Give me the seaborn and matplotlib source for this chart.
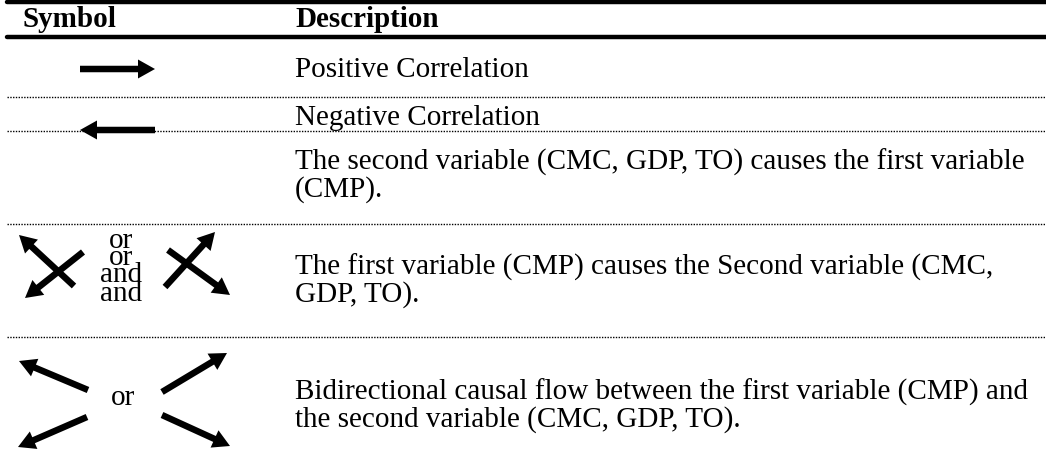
import pandas as pd
import matplotlib.pyplot as plt
import seaborn as sns

# table content
headers = ["Symbol", "Description"]
descriptions = [
    ["Positive Correlation"],
    ["Negative Correlation"],
    ["The second variable (CMC, GDP, TO) causes the first variable", "(CMP)."],
    ["The first variable (CMP) causes the Second variable (CMC,", "GDP, TO)."],
    ["Bidirectional causal flow between the first variable (CMP) and",
     "the second variable (CMC, GDP, TO)."],
]
desc_baseline = [77, 125, 170, 275, 400]
line_step = 27

# separators (pixel rows)
solid_rules = [2, 37]
dotted_rules = [97, 131, 224, 337]

# arrows: (tail_x, tail_y, tip_x, tip_y)
arrows = [
    (80, 69, 155, 69),
    (155, 130, 80, 130),
    (74, 286, 19, 235), (83, 252, 25, 298),
    (165, 287, 215, 232), (168, 250, 230, 295),
    (88, 390, 19, 361), (87, 417, 18, 447),
    (162, 392, 227, 353), (162, 415, 230, 446),
]
connectors = [("or", 121, 248), ("or", 121, 265), ("and", 121, 282),
              ("and", 121, 301), ("or", 123, 405)]

sns.set_theme(style="white")
plt.rcParams['font.family'] = ['Liberation Serif', 'DejaVu Serif']
plt.rcParams['text.color'] = 'black'

fig = plt.figure(figsize=(10.46, 4.71), dpi=100)
ax = fig.add_axes([0, 0, 1, 1])

rules = pd.DataFrame(
    [(y, x, "solid") for y in solid_rules for x in (7, 1046)]
    + [(y, x, "dotted") for y in dotted_rules for x in (7, 1046)],
    columns=["y", "x", "kind"])
for (y, kind), grp in rules.groupby(["y", "kind"]):
    sns.lineplot(data=grp, x="x", y="y", ax=ax, color="black",
                 lw=3.2 if kind == "solid" else 1.0,
                 ls="-" if kind == "solid" else (0, (1, 1)),
                 legend=False)
ax.set_xlim(0, 1046)
ax.set_ylim(471, 0)
ax.axis("off")

fs = 21
ax.text(22, 27, headers[0], fontsize=fs, fontweight="bold", va="baseline")
ax.text(295, 27, headers[1], fontsize=fs, fontweight="bold", va="baseline")

for lines, y in zip(descriptions, desc_baseline):
    for i, txt in enumerate(lines):
        ax.text(295, y + i * line_step, txt, fontsize=fs, va="baseline")

for x0, y0, x1, y1 in arrows:
    ax.arrow(x0, y0, x1 - x0, y1 - y0, width=6.5, head_width=19,
             head_length=17, length_includes_head=True,
             color="black", lw=0)

for txt, x, y in connectors:
    ax.text(x, y, txt, fontsize=fs, ha="center", va="baseline")

plt.savefig("out.png", dpi=100)
